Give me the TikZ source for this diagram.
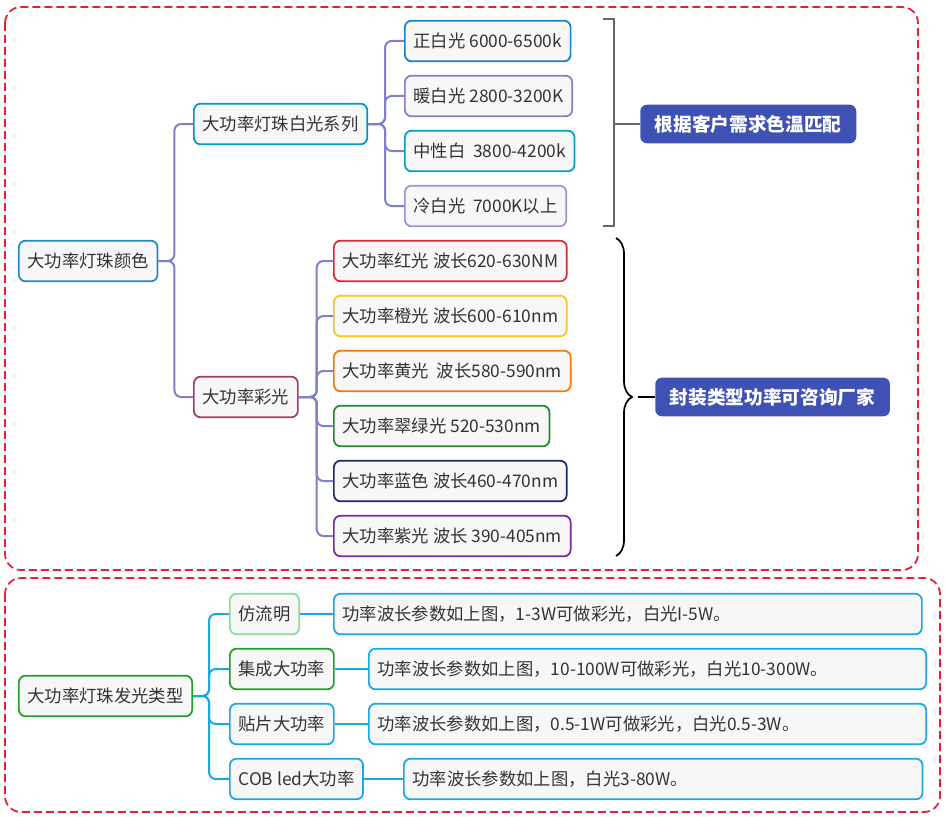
\documentclass[tikz,border=0pt]{standalone}
\usepackage{fontspec}
\newfontfamily\cjk{Noto Sans CJK SC}
\usetikzlibrary{decorations.pathreplacing}
\definecolor{linkcol}{RGB}{128,128,200}
\definecolor{cyancol}{RGB}{24,168,230}
\definecolor{labcol}{RGB}{63,81,181}
\definecolor{fillcol}{RGB}{247,247,247}
\definecolor{framecol}{RGB}{232,30,50}
\definecolor{rootcol}{RGB}{30,136,200}
\definecolor{whitecol}{RGB}{0,150,200}
\definecolor{rgbcol}{RGB}{160,60,110}
\definecolor{wa}{RGB}{20,130,200}
\definecolor{wb}{RGB}{128,128,200}
\definecolor{wc}{RGB}{0,160,190}
\definecolor{wd}{RGB}{150,150,210}
\definecolor{ca}{RGB}{220,40,50}
\definecolor{cb}{RGB}{250,195,30}
\definecolor{cc}{RGB}{250,120,0}
\definecolor{cd}{RGB}{30,140,40}
\definecolor{ce}{RGB}{30,40,110}
\definecolor{cf}{RGB}{120,40,160}
\definecolor{greencol}{RGB}{30,160,40}
\definecolor{lightgreen}{RGB}{140,220,150}
\tikzset{
  box/.style={draw=#1, fill=fillcol, line width=1.3pt, rounded corners=5pt, anchor=west,
    minimum height=30.5pt, inner xsep=6.5pt, font=\cjk\fontsize{13}{15}\selectfont, text=black!80},
  tag/.style={fill=labcol, rounded corners=5pt, anchor=west, minimum height=29pt,
    inner xsep=11pt, text=white, font=\cjk\bfseries\fontsize{14}{16}\selectfont},
  frame/.style={draw=framecol, dash pattern=on 6pt off 3pt, line width=1.3pt, rounded corners=12pt},
  link/.style={draw=linkcol, line width=1.5pt, rounded corners=5pt},
}
\begin{document}
\begin{tikzpicture}[x=0.75pt,y=-0.75pt]
    \useasboundingbox (0,0) rectangle (946,817);

    % the two dashed frames
    \draw[frame] (5,7) rectangle (918,570);
    \draw[frame] (5,578) rectangle (940,812);

    % upper tree: colours
    \node[box=rootcol] (root) at (18,261) {大功率灯珠颜色};
    \node[box=whitecol] (white) at (193,124) {大功率灯珠白光系列};
    \node[box=rgbcol] (rgb) at (193,397) {大功率彩光};

    \node[box=wa] (w1) at (404,41) {正白光 6000-6500k};
    \node[box=wb] (w2) at (404,96) {暖白光 2800-3200K};
    \node[box=wc] (w3) at (404,151) {中性白\ \ 3800-4200k};
    \node[box=wd] (w4) at (404,206) {冷白光\ \ 7000K以上};

    \node[box=ca] (c1) at (333,261) {大功率红光 波长620-630NM};
    \node[box=cb] (c2) at (333,316) {大功率橙光 波长600-610nm};
    \node[box=cc] (c3) at (333,371) {大功率黄光\ \ 波长580-590nm};
    \node[box=cd] (c4) at (333,426) {大功率翠绿光 520-530nm};
    \node[box=ce] (c5) at (333,481) {大功率蓝色 波长460-470nm};
    \node[box=cf] (c6) at (333,536) {大功率紫光 波长 390-405nm};

    \foreach \n in {white,rgb}
        \draw[link] (root.east) -- ++(16,0) |- (\n.west);
    \foreach \n in {w1,w2,w3,w4}
        \draw[link] (white.east) -- ++(17,0) |- (\n.west);
    \foreach \n in {c1,c2,c3,c4,c5,c6}
        \draw[link] (rgb.east) -- ++(18,0) |- (\n.west);

    % bracket and brace with their notes
    \coordinate (bt) at (603,19);
    \coordinate (bb) at (603,226);
    \draw[gray!80!black, line width=1.2pt] (bt) -- (614,19) -- (614,226) -- (bb);
    \node[tag] (note1) at (640,124) {根据客户需求色温匹配};
    \draw[gray!80!black, line width=1.2pt] (614,124) -- (note1.west);

    \draw[line width=1.3pt, decorate, decoration={brace, amplitude=12pt}]
        (616,238) -- (616,556);
    \node[tag] (note2) at (655,397) {封装类型功率可咨询厂家};
    \draw[line width=1.3pt] (638,397) -- (note2.west);

    % lower tree: light types
    \node[box=greencol] (kind) at (18,696) {大功率灯珠发光类型};
    \node[box=lightgreen] (k1) at (229,614) {仿流明};
    \node[box=greencol] (k2) at (229,669) {集成大功率};
    \node[box=cyancol] (k3) at (229,724) {贴片大功率};
    \node[box=cyancol] (k4) at (229,779) {COB led大功率};

    \node[box=cyancol, text width=428pt, align=left] (d1) at (333,614) {功率波长参数如上图，1-3W可做彩光，白光I-5W。};
    \node[box=cyancol, text width=405pt, align=left] (d2) at (368,669) {功率波长参数如上图，10-100W可做彩光，白光10-300W。};
    \node[box=cyancol, text width=405pt, align=left] (d3) at (368,724) {功率波长参数如上图，0.5-1W可做彩光，白光0.5-3W。};
    \node[box=cyancol, text width=376pt, align=left] (d4) at (403,779) {功率波长参数如上图，白光3-80W。};

    \foreach \n in {k1,k2,k3,k4}
        \draw[link, draw=cyancol] (kind.east) -- ++(16,0) |- (\n.west);
    \foreach \a/\b in {k1/d1,k2/d2,k3/d3,k4/d4}
        \draw[draw=cyancol, line width=1.5pt] (\a.east) -- (\b.west);

\end{tikzpicture}
\end{document}
